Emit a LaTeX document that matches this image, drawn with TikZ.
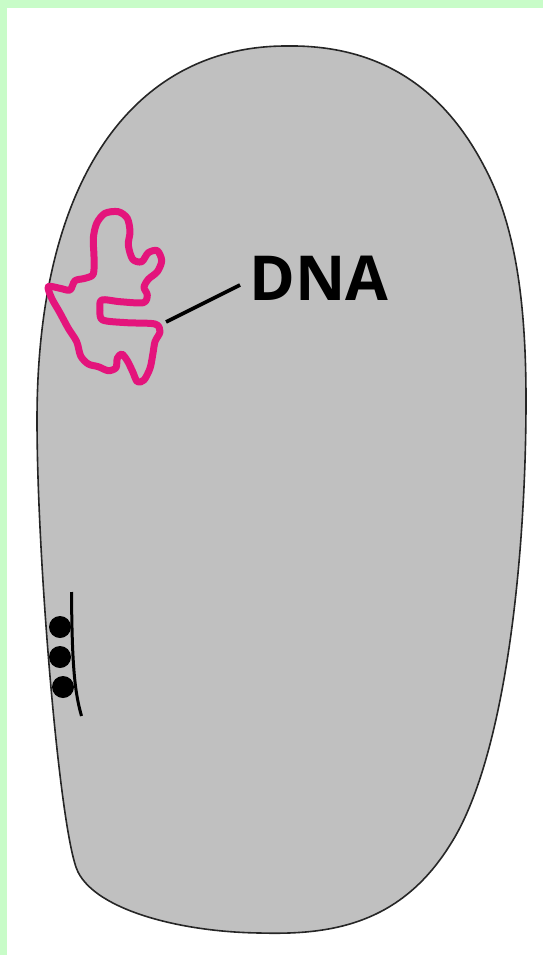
\documentclass[tikz,border=0pt]{standalone}
\usepackage{fontspec}
\setmainfont{Open Sans}
\definecolor{framegreen}{RGB}{200,252,200}
\definecolor{cellgray}{RGB}{192,192,192}
\definecolor{dnapink}{RGB}{228,20,124}
\tikzset{
  cellwall/.style={draw=black!85, line width=1.6pt, fill=cellgray},
  dnaloop/.style={draw=dnapink, line width=7pt, line join=round},
  pointer/.style={draw=black, line width=3.6pt},
  granule/.style={circle, fill=black, inner sep=0pt, minimum size=22pt},
  labeltext/.style={inner sep=0pt, font=\fontsize{62}{62}\selectfont\bfseries}
}
\begin{document}
\begin{tikzpicture}[x=1pt, y=-1pt]
\useasboundingbox (0,0) rectangle (543,955);
% page frame strips
\fill[framegreen] (0,0) rectangle (543,8);
\fill[framegreen] (0,0) rectangle (7,955);
% cell body
\draw[cellwall] (286,46)
  .. controls (400,44) and (455,110) .. (485,168)
  .. controls (515,225) and (526,300) .. (526,400)
  .. controls (526,560) and (505,760) .. (450,845)
  .. controls (400,925) and (330,935) .. (260,933)
  .. controls (180,932) and (97,910) .. (78,872)
  .. controls (60,836) and (37,560) .. (37,420)
  .. controls (37,170) and (140,46) .. cycle;
% nucleoid
\draw[dnaloop] plot[smooth cycle, tension=0.5] coordinates {
  (48.3,286.7) (60,288.3) (70,290) (75,280.7) (85,278.3) (93.3,274)
  (94,256.7) (93.3,238.3) (96.7,223.3) (105,213.3) (118.3,211.7)
  (127.3,218.3) (130,231.7) (128.3,245) (132.7,259.3) (141.7,261.7)
  (148.3,252.7) (157.3,250.7) (161.7,260.7) (157.3,271.7) (148.3,279.3)
  (144,287.3) (147.3,295) (143.3,302.7) (120,301.7) (101.7,300)
  (100,310) (102.7,320) (126.7,322.7) (155,324) (160,331.7) (155,341.7)
  (152.7,355) (150,368.3) (144,380) (137.3,381.7) (132.7,371.7)
  (127.3,360.7) (121.7,354) (117.3,358.3) (116,367.7) (108.3,370.7)
  (98.3,366.7) (88.3,364) (80.7,356) (76.7,341.7) (68.3,328.3)
  (59.3,311.7) (51.7,298.3)};
% label and pointer
\node[labeltext, anchor=base west] (dnalabel) at (249,300) {DNA};
\coordinate (dnaedge) at (166,322);
\coordinate (labelfoot) at (240,285);
\draw[pointer] (dnaedge) -- (labelfoot);
% granules along a membrane strand
\coordinate (strandtop) at (71.5,592);
\coordinate (strandbot) at (81.5,716);
\draw[pointer, line width=3pt] (strandtop) .. controls (72,660) and (74,690) .. (strandbot);
\node[granule] (g1) at (60,627) {};
\node[granule] (g2) at (60,657) {};
\node[granule] (g3) at (63,687) {};
\end{tikzpicture}
\end{document}
